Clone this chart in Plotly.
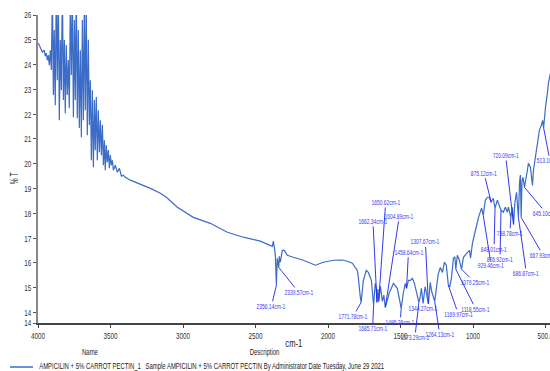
import numpy as np
import plotly.graph_objects as go

# O-H / N-H stretching region (noisy, partly off-scale)
hf_wn = [3998, 3984, 3970, 3957, 3950, 3943, 3936, 3929, 3922, 3915,
         3908, 3901, 3894, 3888, 3881, 3874, 3867, 3860, 3853, 3846,
         3839, 3832, 3825, 3818, 3812, 3805, 3798, 3791, 3784, 3777,
         3770, 3763, 3756, 3749, 3743, 3736, 3729, 3722, 3715, 3708,
         3701, 3694, 3687, 3680, 3674, 3667, 3660, 3653, 3646, 3639,
         3632, 3625, 3618, 3611, 3605, 3598, 3591, 3584, 3577, 3570,
         3563, 3556, 3549, 3542, 3536, 3529, 3522, 3515, 3508, 3501,
         3494, 3487, 3480, 3467, 3453, 3439, 3425, 3412, 3398]
hf_t = [24.87, 24.71, 24.50, 24.58, 24.34, 24.46, 24.18, 24.38, 23.98, 24.58,
        23.78, 26.9, 22.77, 25.39, 22.36, 27.1, 23.37, 26.8, 21.76, 24.99,
        22.97, 27.3, 22.57, 24.99, 22.04, 24.79, 22.77, 24.18, 22.24, 26.7,
        23.58, 26.9, 21.88, 25.80, 22.57, 27.0, 21.84, 25.39, 21.44, 24.58,
        21.07, 25.80, 21.76, 26.8, 22.16, 26.2, 21.15, 25.0, 21.56, 23.37,
        20.14, 22.97, 19.86, 22.57, 20.55, 22.69, 20.14, 22.16, 20.47, 21.76,
        20.35, 21.56, 19.94, 20.95, 19.74, 20.75, 20.06, 20.55, 19.82, 20.35,
        19.94, 20.14, 19.74, 19.94, 19.66, 19.82, 19.50, 19.54, 19.46]

# baseline drift and CO2 region
mid_wn = [3363, 3294, 3225, 3156, 3115, 3039, 2929, 2812, 2694, 2584,
          2467, 2384, 2377, 2370, 2363, 2356.14, 2350, 2339.57, 2336, 2329,
          2315, 2301, 2281, 2239, 2170, 2087, 2032, 1963, 1900, 1867,
          1832, 1798, 1791, 1777]
mid_t = [19.34, 19.18, 19.01, 18.81, 18.65, 18.25, 17.84, 17.60, 17.24, 17.04,
         16.88, 16.67, 16.88, 16.63, 16.31, 15.10, 16.19, 15.82, 16.27, 16.03,
         16.51, 16.51, 16.31, 16.23, 16.11, 15.91, 16.03, 16.11, 16.12, 16.07,
         15.99, 15.70, 15.42, 14.61]

# carbonyl and fingerprint region
fp_wn = [1771.78, 1756, 1736, 1722, 1701, 1685.71, 1674, 1667, 1662.34, 1656,
         1650.62, 1639, 1625, 1615, 1604.89, 1591, 1577, 1563, 1549, 1522,
         1508, 1495.26, 1481, 1467, 1458.64, 1445, 1432, 1418, 1404, 1391,
         1373.29, 1365, 1356, 1344.27, 1330, 1320, 1307.67, 1295, 1285, 1264.13,
         1250, 1240, 1225, 1211, 1197, 1184, 1169.97, 1160, 1149, 1135,
         1125, 1118.55, 1108, 1094, 1079.25, 1066, 1038, 1024, 1017, 1004,
         983, 962, 941, 929.46, 915, 901, 887, 875.12, 860, 848.01,
         832, 818, 806.92, 791, 777, 763, 756, 738.78, 729, 720.09,
         712, 700, 693, 686.87, 679, 673, 667.93, 662, 655, 645.10,
         625, 618, 604, 590, 583, 569, 556, 542, 528, 520,
         513.10, 506, 500, 487, 480, 466]
fp_t = [14.41, 15.30, 15.70, 15.62, 15.30, 14.29, 15.18, 14.98, 14.41, 14.95,
        14.45, 15.06, 14.45, 14.70, 14.21, 14.49, 14.81, 14.98, 15.18, 14.98,
        14.61, 14.17, 14.78, 15.18, 14.98, 15.30, 15.30, 15.38, 15.18, 14.81,
        14.41, 14.60, 14.98, 14.37, 15.05, 14.75, 14.35, 15.22, 14.85, 14.45,
        15.18, 15.55, 15.82, 15.62, 16.03, 15.91, 15.10, 15.05, 15.38, 16.19,
        16.25, 15.75, 16.31, 16.11, 15.75, 16.23, 16.43, 16.51, 16.19, 16.79,
        17.32, 17.84, 18.21, 17.92, 18.53, 18.65, 18.65, 18.45, 18.61, 18.21,
        18.53, 18.25, 18.13, 18.05, 18.25, 18.05, 18.25, 17.84, 18.25, 17.55,
        18.40, 18.85, 18.30, 17.84, 19.25, 19.55, 17.84, 19.30, 19.45, 19.05,
        19.74, 20.02, 19.86, 19.13, 19.74, 20.35, 20.83, 21.36, 21.56, 21.75,
        21.45, 22.10, 22.28, 22.85, 23.25, 23.65]

# labelled peaks and offsets (px) of each label from its peak
peak_wn = [2356.14, 2339.57, 1771.78, 1685.71, 1662.34, 1650.62, 1604.89,
           1495.26, 1458.64, 1373.29, 1344.27, 1307.67, 1264.13, 1169.97,
           1118.55, 1079.25, 929.46, 875.12, 848.01, 806.92, 738.78,
           720.09, 686.87, 667.93, 645.10, 513.10]
label_dx = [-5, 20, -8, -1, -4, 7, 14, -1, 2, -4, 0, -3, 5, 10,
            20, 13, 8, -7, -1, -1, -1, -8, 8, 22, 22, 15]
label_dy = [21, 25, 14, 23, -81, -99, -91, 14, -36, 35, 5, -62, 33, 29,
            40, 13, 50, -29, 41, 49, 16, -69, 56, 38, 26, 33]

x_ticks = [4000, 3500, 3000, 2500, 2000, 1500, 1000, 500.4]
x_ticktext = ["4000", "3500", "3000", "2500", "2000", "1500", "1000", "500.4"]
y_min, y_max = 13.58, 26.0
y_ticks = [y_min] + list(range(14, 27))
y_ticktext = ["14"] + [str(v) for v in range(14, 27)]

sample_name = "AMPICILIN + 5% CARROT PECTIN_1"
sample_desc = "Sample AMPICILIN + 5% CARROT PECTIN By Administrator Date Tuesday, June 29 2021"

wn = np.array(hf_wn + mid_wn + fp_wn, dtype=float)
tr = np.array(hf_t + mid_t + fp_t, dtype=float)

FONT = "Liberation Sans, Arial, sans-serif"
LINE_BLUE = "#3a6cc8"
LABEL_BLUE = "#3c3cf0"
TEXT = "#222222"

fig = go.Figure()
fig.add_trace(go.Scatter(
    x=wn, y=tr, mode="lines",
    line=dict(color=LINE_BLUE, width=1.2),
    name=sample_name, showlegend=False, hoverinfo="skip",
))

# peak labels with leader lines
order = np.argsort(wn)
for p, dx, dy in zip(peak_wn, label_dx, label_dy):
    py = float(np.interp(p, wn[order], tr[order]))
    fig.add_annotation(
        x=p, y=py, ax=dx, ay=dy, axref="pixel", ayref="pixel",
        text=f"{p:.2f}cm-1", showarrow=True, arrowhead=0,
        arrowwidth=0.9, arrowcolor="#2020ee", standoff=0, startstandoff=0,
        font=dict(family=FONT, size=7.5, color=LABEL_BLUE),
        borderpad=0,
    )


def paper_text(x, y, text, size, angle=0):
    fig.add_annotation(x=x, y=y, xref="paper", yref="paper", text=text,
                       showarrow=False, xanchor="center", yanchor="middle",
                       textangle=angle,
                       font=dict(family=FONT, size=size, color=TEXT))


# axis titles and the sample table under the plot
paper_text(0.5, -0.065, "cm-1", 11.5)
paper_text(-0.047, 0.47, "% T", 10, angle=-90)
paper_text(0.1016, -0.094, "Name", 9)
paper_text(0.443, -0.094, "Description", 9)
paper_text(0.1016, -0.139, sample_name, 9)
paper_text(0.443, -0.139, sample_desc, 9)
fig.add_shape(type="line", xref="paper", yref="paper",
              x0=-0.0547, x1=-0.0098, y0=-0.1429, y1=-0.1429,
              line=dict(color=LINE_BLUE, width=1.5))

axis_font = dict(family=FONT, size=9.5, color="#333")
fig.update_layout(
    width=550, height=371,
    margin=dict(l=38, r=0, t=15, b=48, autoexpand=False),
    plot_bgcolor="white", paper_bgcolor="white",
    showlegend=False,
    xaxis=dict(range=[4000, 469], tickvals=x_ticks, ticktext=x_ticktext,
               showline=True, linecolor="#444", linewidth=1.6, ticks="outside",
               ticklen=3, tickcolor="#444", showgrid=False, zeroline=False,
               tickfont=axis_font, ticklabeloverflow="allow", automargin=False),
    yaxis=dict(range=[y_min, y_max], tickvals=y_ticks, ticktext=y_ticktext,
               showline=True, linecolor="#888", linewidth=1.6, ticks="outside",
               ticklen=3, tickcolor="#555", showgrid=False, zeroline=False,
               tickfont=axis_font, automargin=False),
)

# condense every text run horizontally (narrow typeface look)
condense_js = """
(function(){
  var gd = document.getElementById('{plot_id}');
  function squeeze(){
    gd.querySelectorAll('svg text').forEach(function(t){
      if (t.getAttribute('data-sq')) return;
      var L = t.getComputedTextLength();
      if (!L) return;
      t.setAttribute('textLength', (L * 0.66).toFixed(2));
      t.setAttribute('lengthAdjust', 'spacingAndGlyphs');
      t.setAttribute('data-sq', '1');
    });
  }
  squeeze();
  if (gd.on) gd.on('plotly_afterplot', squeeze);
  setTimeout(squeeze, 30);
})();
"""

fig.write_html("out.html", post_script=condense_js)
